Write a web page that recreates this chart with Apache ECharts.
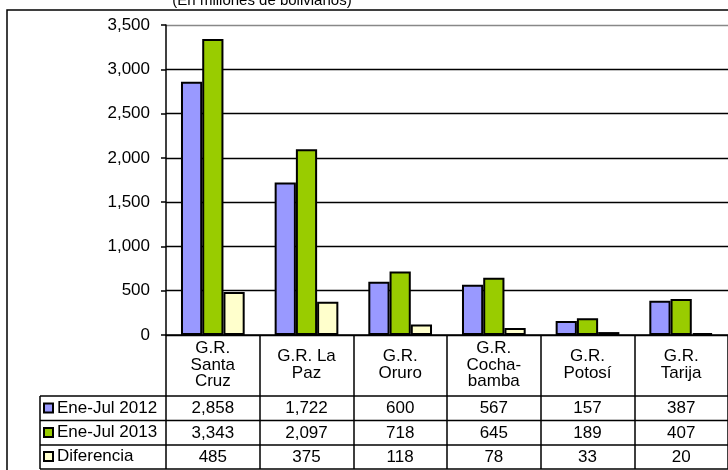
<!DOCTYPE html>
<html>
<head>
<meta charset="utf-8">
<script src="https://cdn.jsdelivr.net/npm/echarts@6/dist/echarts.min.js"></script>
<style>html,body{margin:0;padding:0;background:#fff}#c{width:728px;height:470px}</style>
</head>
<body>
<div id="c"></div>
<script>
const categories = ['G.R.\nSanta\nCruz', 'G.R. La\nPaz', 'G.R.\nOruro', 'G.R.\nCocha-\nbamba', 'G.R.\nPotosí', 'G.R.\nTarija'];
const seriesNames = ['Ene-Jul 2012', 'Ene-Jul 2013', 'Diferencia'];
const ene2012 = [2858, 1722, 600, 567, 157, 387];
const ene2013 = [3343, 2097, 718, 645, 189, 407];
const diferencia = [485, 375, 118, 78, 33, 20];
const yTicks = [0, 500, 1000, 1500, 2000, 2500, 3000, 3500];
const subtitle = '(En millones de bolivianos)';

const colors = ['#9999FF', '#99CC00', '#FFFFCC'];
const values = [ene2012, ene2013, diferencia];
const FONT = '"Liberation Sans", Arial, sans-serif';
const fmt = v => v.toLocaleString('en-US');

const chart = echarts.init(document.getElementById('c'), null, {renderer: 'canvas'});

const gridTop = 25, gridH = 310, gridLeft = 166, gridW = 566;
const rowCenters = [408.5, 433, 457]; // table rows (layout)
const tableXAxes = values.map((arr, i) => ({
  type: 'category', data: categories, gridIndex: 0, position: 'bottom',
  offset: rowCenters[i] - (gridTop + gridH),
  axisLine: {show: false}, axisTick: {show: false},
  axisLabel: {
    interval: 0, margin: 0, verticalAlign: 'middle',
    fontFamily: FONT, fontSize: 17, color: '#000',
    formatter: (val, idx) => fmt(arr[idx])
  }
}));

const legends = seriesNames.map((n, i) => ({
  orient: 'horizontal', left: 40, top: rowCenters[i] - 9, padding: [0, 0, 0, 3],
  itemWidth: 9, itemHeight: 9, icon: 'rect', itemGap: 0,
  data: [n],
  textStyle: {fontFamily: FONT, fontSize: 17, color: '#000', padding: [0, 0, 0, -1]},
  itemStyle: {borderColor: '#000', borderWidth: 2}
}));

const option = {
  animation: false,
  color: colors,
  textStyle: {fontFamily: FONT},
  grid: {left: gridLeft, top: gridTop, width: gridW, height: gridH, containLabel: false},
  legend: legends,
  xAxis: [{
    type: 'category', data: categories, gridIndex: 0,
    axisLine: {show: true, lineStyle: {color: '#000', width: 1.5}},
    axisTick: {show: true, interval: 0, length: 134, lineStyle: {color: '#000', width: 1.5}},
    axisLabel: {interval: 0, margin: 30, verticalAlign: 'middle', fontFamily: FONT, fontSize: 17, lineHeight: 16.5, color: '#000'}
  }].concat(tableXAxes),
  yAxis: {
    type: 'value', min: 0, max: 3500, interval: 500,
    axisLine: {show: true, lineStyle: {color: '#000', width: 1.5}},
    axisTick: {show: true, length: 5, lineStyle: {color: '#000', width: 1.5}},
    axisLabel: {margin: 16, fontFamily: FONT, fontSize: 17, color: '#000', formatter: v => fmt(v)},
    splitLine: {show: true, lineStyle: {color: ['#000', '#000', '#000', '#000', '#000', '#000', '#000', '#888'], width: 1.3}}
  },
  series: seriesNames.map((n, i) => ({
    name: n, type: 'bar', data: values[i],
    barGap: '0%', barCategoryGap: '32%',
    itemStyle: {color: colors[i], borderColor: '#000', borderWidth: 2}
  }))
};
chart.setOption(option);

// table lines and outer frame
const rowLines = [396, 420.5, 445, 469];
const graphics = [
  {type: 'rect', shape: {x: 7, y: 10, width: 800, height: 600}, style: {fill: 'none', stroke: '#000', lineWidth: 1.5}, z: 100},
  {type: 'text', style: {text: subtitle, x: 262, y: 8, textAlign: 'center', textVerticalAlign: 'bottom', font: '15px "Liberation Sans", Arial, sans-serif', fill: '#000'}},
  {type: 'line', shape: {x1: 40, y1: rowLines[0], x2: 40, y2: rowLines[3]}, style: {stroke: '#000', lineWidth: 1.5}}
];
rowLines.forEach(y => graphics.push({type: 'line', shape: {x1: 40, y1: y, x2: 740, y2: y}, style: {stroke: '#000', lineWidth: 1.5}}));
chart.setOption({graphic: graphics});
</script>
</body>
</html>
